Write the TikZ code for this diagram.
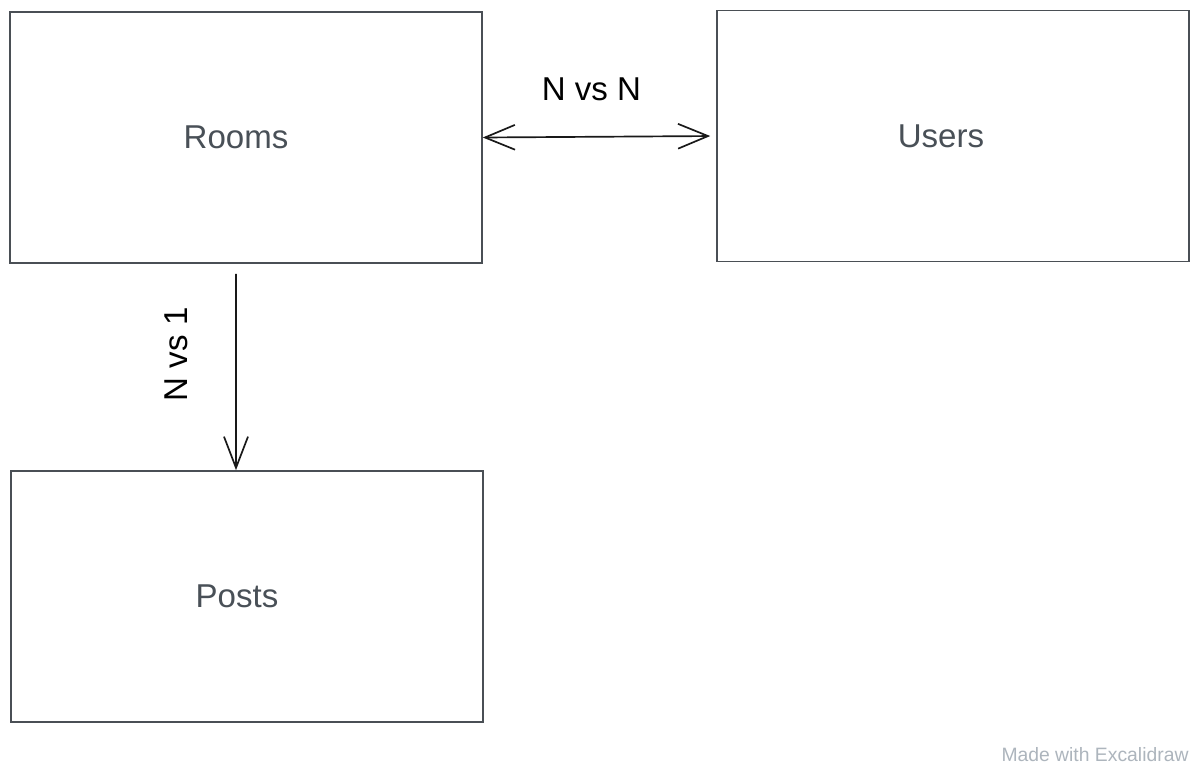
\documentclass[tikz,border=0pt]{standalone}
\usepackage{fontspec}
\setmainfont{Liberation Sans}
\usepackage{tikz}
\usetikzlibrary{arrows.meta,positioning}

\definecolor{boxline}{HTML}{4A4F55}
\definecolor{boxtext}{HTML}{495057}
\definecolor{marktext}{HTML}{ADB5BD}

\begin{document}
\begin{tikzpicture}[
			x=0.025cm, y=-0.025cm,
			entity/.style={
				rectangle,
				draw=boxline,
				line width=1pt,
				minimum width=11.8cm,
				minimum height=6.28cm,
				inner sep=0pt,
				text=boxtext,
				font=\fontsize{23.5}{28}\selectfont
			},
			relation/.style={
				text=black,
				font=\fontsize{23.5}{28}\selectfont
			},
			watermark/.style={
				text=marktext,
				font=\fontsize{13.75}{16}\selectfont
			},
			link/.style={
				line width=1.2pt,
				draw=black!90
			}
			]
			\path[fill=white, use as bounding box] (0,0) rectangle (1200,768);
			
			% 实体
			\node[entity] (rooms) at (246,137.5) {Rooms\kern0.5cm};
			\node[entity] (users) at (953,136) {Users\kern0.6cm};
			\node[entity] (posts) at (247,596.5) {Posts\kern0.5cm};
			
			% 关系
			\draw[link, shorten >=0.15cm, {Straight Barb[length=0.75cm,width=0.62cm]}-{Straight Barb[length=0.75cm,width=0.62cm]}]
				(rooms.east) -- (users.west)
				node[midway, xshift=-0.2cm, yshift=1.175cm, relation] (manymany) {N vs N};
			\draw[link, -{Straight Barb[length=0.78cm,width=0.6cm]}]
				([xshift=-0.25cm, yshift=-0.25cm]rooms.south) -- ([xshift=-0.275cm]posts.north)
				node[pos=0.41, xshift=-1.5cm, rotate=90, relation] (manyone) {N vs 1};
			
			% 水印
			\node[watermark] (mark) at (1095,755) {Made with Excalidraw};
		\end{tikzpicture}
\end{document}
